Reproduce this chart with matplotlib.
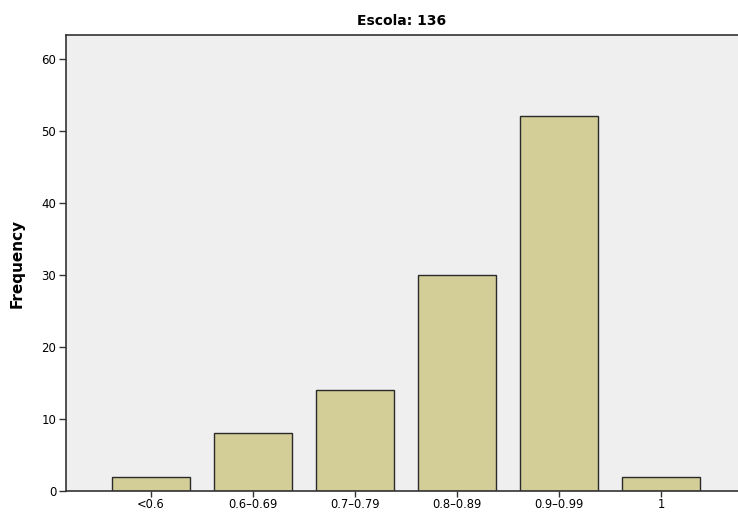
import matplotlib
matplotlib.use("Agg")
import matplotlib.pyplot as plt

categories = ["<0.6", "0.6\u20130.69", "0.7\u20130.79", "0.8\u20130.89", "0.9\u20130.99", "1"]
frequencies = [2, 8, 14, 30, 52, 2]
yticks = [0, 10, 20, 30, 40, 50, 60]
title = "Escola: 136"
ylabel = "Frequency"

fig = plt.figure(figsize=(7.38, 5.12), dpi=100)
ax = fig.add_axes([66/738, 21/512, 1 - 66/738, (491-35)/512])
ax.set_facecolor("#EFEFEF")
x = list(range(len(categories)))
ax.bar(x, frequencies, width=0.765, color="#D3CE97", edgecolor="#2a2a2a", linewidth=1.0, zorder=2)
ax.set_xlim(-0.833, 5.75)
ax.set_ylim(0, 63.3)
ax.set_xticks(x)
ax.set_xticklabels(categories, fontsize=8.3)
ax.set_yticks(yticks)
ax.set_yticklabels([str(v) for v in yticks], fontsize=8.5)
ax.tick_params(direction="out", length=5, width=1, color="#333333", pad=2)
ax.tick_params(axis="x", pad=0.5, length=4.5)
for s in ["left", "bottom", "top"]:
    ax.spines[s].set_color("#333333")
    ax.spines[s].set_linewidth(1.2)
ax.spines["right"].set_visible(False)
ax.set_ylabel(ylabel, fontsize=11, fontweight="bold", labelpad=12)
ax.set_title(title, fontsize=10, fontweight="bold", pad=7)
fig.savefig("out.png", dpi=100)
